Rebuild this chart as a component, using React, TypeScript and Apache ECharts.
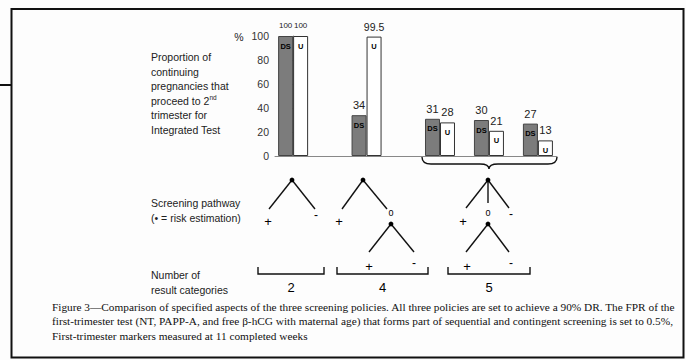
import React, { useEffect, useRef } from "react";
import * as echarts from "echarts";

// ---- data ----
const groups = ["Integrated", "Sequential", "Contingent A", "Contingent B", "Contingent C"];
const slots = [0, 3, 6, 8, 10];
const dsValues = [100, 34, 31, 30, 27];
const uValues = [100, 99.5, 28, 21, 13];
const yTicks = [0, 20, 40, 60, 80, 100];
const resultCategories = ["2", "4", "5"];
const leftLabelLines = [
  "Proportion of",
  "continuing",
  "pregnancies that",
  "proceed to 2{sup|nd}",
  "trimester for",
  "Integrated Test",
];
const captionLines = [
  "Figure 3\u2014Comparison of specified aspects of the three screening policies. All three policies are set to achieve a 90% DR. The FPR of the",
  "first-trimester test (NT, PAPP-A, and free \u03b2-hCG with maternal age) that forms part of sequential and contingent screening is set to 0.5%,",
  "First-trimester markers measured at 11 completed weeks",
];

const SANS = "'Liberation Sans', Arial, sans-serif";
const SERIF = "'Liberation Serif', 'Times New Roman', serif";
const INK = "#222";

echarts.graphic.registerShape(
  "brace",
  echarts.graphic.extendPath(
    "M0,0 Q0,7 9,7 L58,7 Q67,7 67,12 Q67,7 76,7 L126,7 Q135,7 135,0",
    {}
  )
);

function txt(x: number, y: number, text: string, size: number, extra: any = {}) {
  return {
    type: "text",
    x,
    y,
    style: {
      text,
      fontSize: size,
      fontFamily: SANS,
      fill: INK,
      textAlign: "center",
      textVerticalAlign: "middle",
      ...extra,
    },
  };
}
function ln(x1: number, y1: number, x2: number, y2: number, w = 1.4) {
  return { type: "line", shape: { x1, y1, x2, y2 }, style: { stroke: "#111", lineWidth: w } };
}
function dot(x: number, y: number) {
  return { type: "circle", shape: { cx: x, cy: y, r: 2.4 }, style: { fill: "#000" } };
}

export default function App() {
  const ref = useRef<HTMLDivElement>(null);
  useEffect(() => {
    if (!ref.current) return;
    const chart = echarts.init(ref.current, undefined, { renderer: "svg" });

    const mkLabel = (tag: string) => ({
      show: true,
      position: "top",
      distance: 0,
      offset: [0, 20],
      formatter: (p: any) => {
        const v = p.value[1];
        const style = v >= 100 ? "s" : v % 1 !== 0 ? "m" : "v";
        return `{${style}|${v}}\n{t|${tag}}`;
      },
      rich: {
        s: { fontSize: 8, lineHeight: 20, fontFamily: SANS, color: INK, padding: [0, 0, 2, 0] },
        m: { fontSize: 10.5, lineHeight: 20, fontFamily: SANS, color: INK },
        v: { fontSize: 11, lineHeight: 20, fontFamily: SANS, color: INK },
        t: { fontSize: 7.5, lineHeight: 20, fontFamily: SANS, color: "#000", fontWeight: "bold" },
      },
    });

    const graphics: any[] = [];
    // frame
    graphics.push({
      type: "polyline",
      shape: { points: [[11.5, 85], [11.5, 9], [683.5, 9], [683.5, 357.5], [11.5, 357.5], [11.5, 85]] },
      style: { stroke: "#111", lineWidth: 2, fill: null },
    });
    graphics.push(ln(0, 85, 11.5, 85, 2));

    // left labels
    leftLabelLines.forEach((l, i) => {
      graphics.push(
        txt(151, 57 + i * 14.6, l, 10.5, {
          textAlign: "left",
          rich: { sup: { fontSize: 6.5, fontFamily: SANS, fill: INK, padding: [0, 0, 6, 0] } },
        })
      );
    });
    graphics.push(txt(239, 37, "%", 10.5));

    // curly brace under contingent bars
    graphics.push({
      type: "brace",
      x: 422,
      y: 157,
      style: { stroke: "#111", lineWidth: 1.4, fill: null },
    });

    // pathway labels
    graphics.push(txt(151, 203, "Screening pathway", 10.5, { textAlign: "left" }));
    graphics.push(txt(151, 218, "(\u2022 = risk estimation)", 10.5, { textAlign: "left" }));
    graphics.push(txt(151, 275, "Number of", 10.5, { textAlign: "left" }));
    graphics.push(txt(151, 290, "result categories", 10.5, { textAlign: "left" }));

    const PL = { fill: "#000" };
    // tree 1
    graphics.push(ln(292, 180, 269, 209), ln(292, 180, 315, 209), dot(292, 180));
    graphics.push(txt(268, 221, "+", 13, PL), txt(316, 215, "-", 12, PL));
    // tree 2
    graphics.push(ln(363, 180, 342, 209), ln(363, 180, 387, 209), dot(363, 180));
    graphics.push(txt(339, 221, "+", 13, PL), txt(391, 213, "0", 9, PL));
    graphics.push(ln(391, 224, 369, 252), ln(391, 224, 414, 252), dot(391, 224));
    graphics.push(txt(369, 266, "+", 13, PL), txt(414, 263, "-", 12, PL));
    // tree 3
    graphics.push(ln(488, 180, 466, 208), ln(488, 180, 488, 203), ln(488, 180, 509, 208), dot(488, 180));
    graphics.push(txt(463, 221, "+", 13, PL), txt(488, 213, "0", 9, PL), txt(511, 214, "-", 12, PL));
    graphics.push(ln(488, 224, 466, 252), ln(488, 224, 509, 252), dot(488, 224));
    graphics.push(txt(467, 266, "+", 13, PL), txt(511, 263, "-", 12, PL));

    // result category brackets
    const brackets = [
      [258, 324],
      [337, 428],
      [448, 530],
    ];
    brackets.forEach(([a, b], i) => {
      graphics.push({
        type: "polyline",
        shape: { points: [[a, 267], [a, 274], [b, 274], [b, 267]] },
        style: { stroke: "#111", lineWidth: 1.4, fill: null },
      });
      graphics.push(txt((a + b) / 2, 287, resultCategories[i], 13, PL));
    });

    // caption
    captionLines.forEach((l, i) => {
      graphics.push({
        type: "text",
        x: 52,
        y: 307 + i * 14.3,
        style: {
          text: l,
          fontSize: 11.3,
          fontFamily: SERIF,
          fill: "#111",
          textAlign: "left",
          textVerticalAlign: "middle",
        },
      });
    });

    chart.setOption({
      animation: false,
      backgroundColor: "#fdfdfd",
      grid: { left: 275, top: 36, width: 282, height: 120, containLabel: false },
      xAxis: {
        type: "value",
        min: -0.74,
        max: 10.78,
        axisLine: { show: true, lineStyle: { color: "#888", width: 1 } },
        axisTick: { show: false },
        axisLabel: { show: false },
        splitLine: { show: false },
      },
      yAxis: {
        type: "value",
        min: yTicks[0],
        max: yTicks[yTicks.length - 1],
        interval: 20,
        axisLine: { show: true, lineStyle: { color: "#888", width: 1 } },
        axisTick: { show: true, length: 3, lineStyle: { color: "#888" } },
        axisLabel: { margin: 6, fontSize: 10.5, fontFamily: SANS, color: "#333" },
        splitLine: { show: false },
      },
      series: [
        {
          name: "DS",
          type: "bar",
          barWidth: 15,
          barGap: "0%",
          data: slots.map((s, i) => ({ name: groups[i], value: [s, dsValues[i]] })),
          itemStyle: { color: "#7c7c7c", borderColor: "#444", borderWidth: 1 },
          label: mkLabel("DS"),
        },
        {
          name: "U",
          type: "bar",
          barWidth: 15,
          barGap: "0%",
          data: slots.map((s, i) => ({ name: groups[i], value: [s, uValues[i]] })),
          itemStyle: { color: "#ffffff", borderColor: "#333", borderWidth: 1 },
          label: mkLabel("U"),
        },
      ],
      graphic: graphics,
    });
    return () => chart.dispose();
  }, []);
  return (
    <div
      ref={ref}
      style={{ position: "fixed", left: 0, top: 0, width: 686, height: 360 }}
    />
  );
}
